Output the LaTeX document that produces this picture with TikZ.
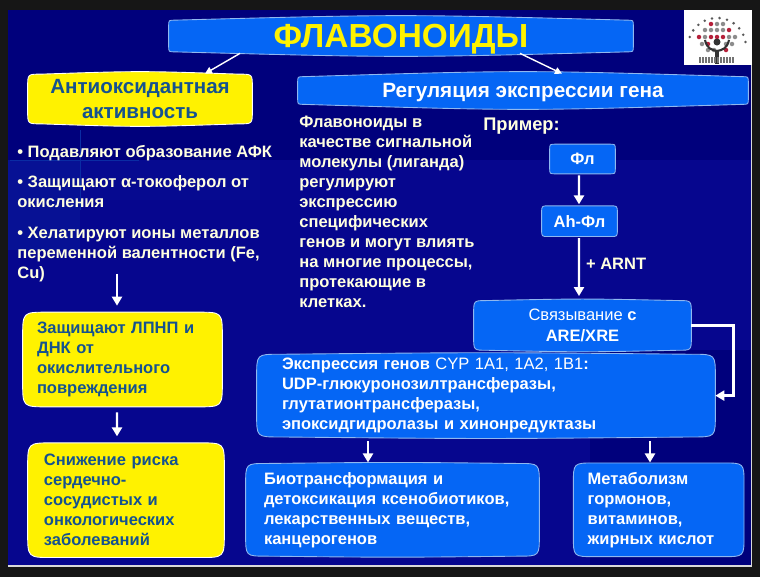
\documentclass[tikz,border=0pt]{standalone}
\usepackage{fontspec}
\setmainfont{Liberation Sans}
\usepackage{xcolor}
\usetikzlibrary{positioning,calc,backgrounds,arrows.meta}

\definecolor{framegray}{HTML}{161616}
\definecolor{navyback}{HTML}{00007C}
\definecolor{navylight}{HTML}{06068E}
\definecolor{navypatch}{HTML}{0A2CA4}
\definecolor{boxblue}{HTML}{0566F5}
\definecolor{edgeblue}{HTML}{8FB8F0}
\definecolor{inkblue}{HTML}{15528F}
\definecolor{cream}{HTML}{FFFFE0}
\definecolor{logored}{HTML}{B5203A}

% outline with slightly bowed edges, drawn behind a node
\newcommand{\bowbox}[4]{%
  \draw[#4] ($(#1.north west)+(0,-#3-#2)$)
    .. controls ($(#1.north west)+(0,-#3)$) .. ($(#1.north west)+(#2,-#3)$)
    .. controls ($(#1.north)+(0,#3/3)$) .. ($(#1.north east)+(-#2,-#3)$)
    .. controls ($(#1.north east)+(0,-#3)$) .. ($(#1.north east)+(0,-#3-#2)$)
    -- ($(#1.south east)+(0,#3+#2)$)
    .. controls ($(#1.south east)+(0,#3)$) .. ($(#1.south east)+(-#2,#3)$)
    .. controls ($(#1.south)+(0,-#3/3)$) .. ($(#1.south west)+(#2,#3)$)
    .. controls ($(#1.south west)+(0,#3)$) .. ($(#1.south west)+(0,#3+#2)$)
    -- cycle;}

\begin{document}
\begin{tikzpicture}[
    bodyfont/.style={font=\fontsize{9.4}{11.4}\selectfont\bfseries},
    bluebox/.style={inner sep=0pt, bodyfont, text=white, align=left},
    yellowbox/.style={inner sep=0pt, bodyfont, text=inkblue, align=left},
    plaintext/.style={inner sep=0pt, bodyfont, text=cream, align=left},
    bluefill/.style={fill=boxblue, draw=edgeblue, line width=0.5pt},
    yellowfill/.style={fill=yellow, draw=white, line width=0.5pt},
    arrow/.style={-{Triangle[width=0.2cm,length=0.18cm]}, white, line width=1.4pt},
    thinarrow/.style={-{Triangle[width=0.14cm,length=0.14cm]}, white, line width=0.8pt}
]
\useasboundingbox (0,0) rectangle (15.2,-11.54);

% Heads
\node[inner sep=0pt, minimum width=9.28cm, minimum height=0.8cm, text depth=0pt, text=yellow, font=\fontsize{19}{20}\selectfont\bfseries] (title) at (8.02,-0.72) {ФЛАВОНОИДЫ};
\node[yellowbox, align=center, minimum width=4.48cm, minimum height=1.08cm, font=\fontsize{11.7}{14.2}\selectfont\bfseries] (anti) at (2.8,-1.98) {Антиоксидантная\\активность};
\node[bluebox, align=center, minimum width=9cm, minimum height=0.74cm, text depth=0pt, font=\fontsize{11.8}{13}\selectfont\bfseries] (reg) at (10.46,-1.81) {Регуляция экспрессии гена};

% Left column
\node[plaintext, anchor=north west] (b1) at (0.34,-2.9) {• Подавляют образование АФК};
\node[plaintext, below right=0.28cm and 0cm of b1.south west] (b2) {• Защищают α-токоферол от\\окисления};
\node[plaintext, below right=0.38cm and 0cm of b2.south west] (b3) {• Хелатируют ионы металлов\\переменной валентности (Fe,\\Cu)};
\node[yellowbox, text width=3.42cm, inner xsep=0.28cm, minimum height=1.9cm] (protect) at (2.45,-7.19) {Защищают ЛПНП и\\ДНК от\\окислительного\\повреждения};
\node[yellowbox, text width=3.28cm, inner xsep=0.32cm, minimum height=2.3cm, below=0.7cm of protect, xshift=0.07cm] (risk) {Снижение риска\\сердечно-\\сосудистых и\\онкологических\\заболеваний};

% Right column
\node[plaintext, anchor=north west] (ligand) at (5.98,-2.31) {Флавоноиды в\\качестве сигнальной\\молекулы (лиганда)\\регулируют\\экспрессию\\специфических\\генов и могут влиять\\на многие процессы,\\протекающие в\\клетках.};
\node[plaintext, font=\fontsize{10.4}{12}\selectfont\bfseries] (example) at (10.43,-2.52) {Пример:};
\node[bluebox, align=center, minimum width=1.3cm, minimum height=0.6cm] (fl) at (11.65,-3.18) {Фл};
\node[bluebox, align=center, minimum width=1.5cm, minimum height=0.62cm, below=0.62cm of fl, xshift=-0.06cm] (ah) {Ah-Фл};
\node[bluebox, align=center, minimum width=4.34cm, minimum height=1.04cm, below=1.24cm of ah, xshift=0.06cm] (bind) {\mdseries Связывание \bfseries с\\ARE/XRE};
\node[bluebox, text width=8.16cm, inner xsep=0.5cm, minimum height=1.7cm, below=0.02cm of bind, xshift=-1.93cm] (expr) {Экспрессия генов \mdseries CYP 1A1, 1A2, 1B1\bfseries:\\UDP-глюкуронозилтрансферазы,\\глутатионтрансферазы,\\эпоксидгидролазы и хинонредуктазы};
\node[bluebox, text width=5.14cm, inner xsep=0.36cm, minimum height=1.88cm, below=0.48cm of expr, xshift=-1.87cm] (bio) {Биотрансформация и\\детоксикация ксенобиотиков,\\лекарственных веществ,\\канцерогенов};
\node[bluebox, text width=2.84cm, inner xsep=0.28cm, minimum height=1.88cm, right=0.68cm of bio] (meta) {Метаболизм\\гормонов,\\витаминов,\\жирных кислот};

% Connections
\draw[thinarrow] ($(title.south)+(-3.22,0.06)$) -- ($(anti.north)+(1.3,-0.04)$);
\draw[thinarrow] ($(title.south)+(2.38,0.06)$) -- ($(reg.north)+(0.78,-0.04)$);
\draw[arrow] ($(b3.south west)+(2,0.18)$) -- ($(protect.north)+(-0.11,0.12)$);
\draw[arrow] ($(protect.south)+(-0.11,-0.1)$) -- ($(risk.north)+(-0.18,0.12)$);
\draw[arrow] ($(fl.south)+(-0.07,-0.02)$) -- ($(ah.north)+(-0.01,0.02)$);
\draw[arrow] ($(ah.south)+(-0.01,-0.02)$) -- node[right=0cm, yshift=0.06cm, bodyfont, text=cream] (arnt) {+ ARNT} ($(bind.north)+(-0.07,0.06)$);
\draw[arrow] (bind.east) -- ++(0.84,0) |- (expr.east);
\draw[arrow] ($(expr.south)+(-2.36,-0.06)$) -- (bio.north -| {$(expr.south)+(-2.36,0)$});
\draw[arrow] ($(expr.south)+(3.28,-0.06)$) -- (meta.north -| {$(expr.south)+(3.28,0)$});

% Slide background and box outlines
\begin{scope}[on background layer]
\fill[framegray] (0,0) rectangle (15.2,-11.54);
\fill[navyback] (0.16,-0.2) rectangle (15.03,-11.32);
\fill[navylight] (0.16,-3.2) rectangle (15.03,-11.32);
\fill[navypatch, opacity=0.3] (0.16,-3.2) rectangle (1.6,-5.0);
\fill[navypatch, opacity=0.12] (1.6,-3.2) rectangle (5.2,-4);
\fill[navyback] (11.8,-7) rectangle (15.03,-11.32);
\draw[navypatch, line width=0.5pt] (0.2,-3.2) -- (2.78,-3.2) (1.6,-2.6) -- (1.6,-4.2);
\draw[white!85!black, line width=0.6pt] (0.16,-11.32) -- (15.03,-11.32) -- (15.03,-1.3);
\foreach \n/\r/\b/\s in {title/.12/.09/bluefill, reg/.12/.1/bluefill, fl/.12/.01/bluefill, ah/.14/.01/bluefill, bind/.26/.03/bluefill, expr/.45/.03/bluefill, bio/.42/.02/bluefill, meta/.42/.01/bluefill, anti/.26/.05/yellowfill, protect/.5/.01/yellowfill, risk/.5/.01/yellowfill}
  \bowbox{\n}{\r}{\b}{\s};
\end{scope}

% Logo
\fill[white] (13.68,-0.2) rectangle (15.03,-1.3);
\foreach \a in {10,25,...,170}
  \fill[black!65] (14.34,-0.94) ++(\a:0.58) circle (0.028);
\foreach \x/\y/\c in {14.22/-0.48/logored,14.34/-0.48/black!45,14.46/-0.48/black!45,14.1/-0.6/black!45,14.22/-0.6/black!45,14.34/-0.6/black!45,14.46/-0.6/black!45,14.58/-0.6/logored,13.98/-0.74/logored,14.1/-0.74/black!45,14.22/-0.74/logored,14.34/-0.74/logored,14.46/-0.74/logored,14.58/-0.74/black!45,14.7/-0.74/black!45,14.04/-0.88/black!45,14.16/-0.88/logored,14.52/-0.88/black!45,14.64/-0.88/black!45,14.16/-1/black!45,14.28/-1/black!45,14.52/-1/logored}
  \fill[\c] (\x,\y) circle (0.045);
\draw[black!80, line width=1.2pt] (14.1,-0.8) .. controls (14.14,-0.98) and (14.24,-1) .. (14.34,-1.02) .. controls (14.44,-1) and (14.54,-0.98) .. (14.58,-0.8);
\draw[black!80, line width=2pt] (14.34,-1) -- (14.34,-1.28);
\fill[black!80] (14.34,-0.84) circle (0.07);
\foreach \x in {14,14.06,...,14.7}
  \draw[black!55, line width=0.7pt] (\x,-1.14) -- (\x,-1.26);

\end{tikzpicture}
\end{document}
